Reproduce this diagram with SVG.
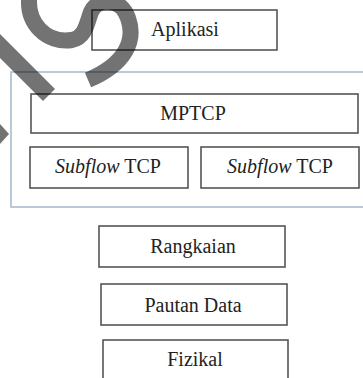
<svg xmlns="http://www.w3.org/2000/svg" width="363" height="378" viewBox="0 0 363 378">
<style>
.box{fill:#fff;stroke:#555;stroke-width:1.6}
.frame{fill:none;stroke:#a9bccf;stroke-width:1.6}
.t{font-family:"Liberation Serif","Times New Roman",serif;font-size:20px;fill:#222;text-anchor:middle}
.wm{fill:none;stroke:#000;stroke-opacity:0.55;stroke-width:16}
.wmf{fill:#000;fill-opacity:0.55}
</style>
<rect width="363" height="378" fill="#fff"/>
<g id="container"><rect class="frame" x="11" y="72" width="360" height="135"/></g>
<g id="aplikasi"><rect class="box" x="92" y="10" width="185" height="40"/><text class="t" x="185" y="36">Aplikasi</text></g>
<g id="mptcp"><rect class="box" x="31" y="94" width="327" height="39"/><text class="t" x="193" y="120">MPTCP</text></g>
<g id="subflow1"><rect class="box" x="30" y="147" width="158" height="41"/><text class="t" x="108" y="173"><tspan font-style="italic">Subflow</tspan> TCP</text></g>
<g id="subflow2"><rect class="box" x="201" y="147" width="158" height="41"/><text class="t" x="280" y="173"><tspan font-style="italic">Subflow</tspan> TCP</text></g>
<g id="rangkaian"><rect class="box" x="99" y="226" width="186" height="41"/><text class="t" x="193" y="253">Rangkaian</text></g>
<g id="pautan"><rect class="box" x="101" y="284" width="186" height="41"/><text class="t" x="193" y="312">Pautan Data</text></g>
<g id="fizikal"><rect class="box" x="103" y="340" width="185" height="45"/><text class="t" x="195" y="366">Fizikal</text></g>
<g id="connectors"></g>
<g id="watermark">
<path class="wm" d="M30,-8 C24,24 48,44 72,40 C86,37 87,22 91,12 C97,-2 120,-4 128,18 C136,40 126,64 88,80"/>
<polygon class="wmf" points="-10,24 55,89 43,101 -10,48"/>
<polygon class="wmf" points="0,124 9,134 0,144"/>
</g>
</svg>
